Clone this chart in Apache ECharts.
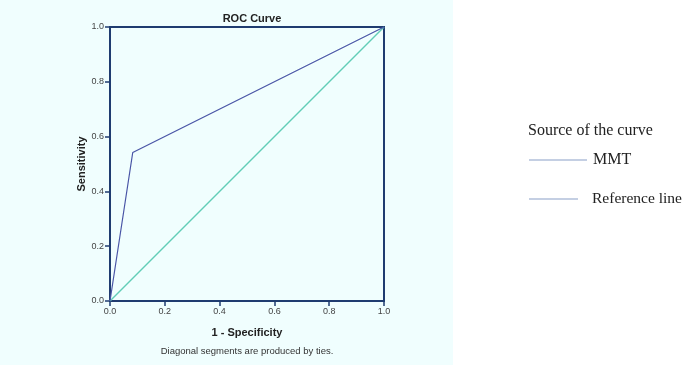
<!DOCTYPE html>
<html>
<head>
<meta charset="utf-8">
<script src="https://cdn.jsdelivr.net/npm/echarts@6/dist/echarts.min.js"></script>
<style>
  html, body { margin: 0; padding: 0; background: #fff; }
  #chart { width: 688px; height: 365px; }
</style>
</head>
<body>
<div id="chart"></div>
<script>
// ROC points (1 - specificity, sensitivity)
const mmtX = [0, 0.083, 1]
const mmtY = [0, 0.542, 1]
const refX = [0, 1]
const refY = [0, 1]
const legendNames = ['MMT', 'Reference line']

const frameColor = '#1f3c70'
const mmtColor = '#4955a6'
const refColor = '#62cdb7'
const labelFont = 'Liberation Sans, Arial, sans-serif'
const legendFont = 'Liberation Serif, serif'

const chart = echarts.init(document.getElementById('chart'))

const toPairs = (xs, ys) => xs.map((x, i) => [x, ys[i]])

const axisCommon = {
  min: 0,
  max: 1,
  interval: 0.2,
  axisLine: { show: true, lineStyle: { color: frameColor, width: 2 } },
  axisTick: { show: true, length: 5, lineStyle: { color: frameColor, width: 1.5 } },
  axisLabel: {
    color: '#444',
    fontSize: 9,
    fontFamily: labelFont,
    formatter: v => v.toFixed(1)
  },
  splitLine: { show: false },
  nameTextStyle: { fontWeight: 'bold', fontSize: 11, color: '#222', fontFamily: labelFont }
}

const option = {
  backgroundColor: '#fff',
  animation: false,
  title: {
    text: 'ROC Curve',
    left: 247,
    textAlign: 'center',
    top: 8,
    textStyle: { fontSize: 11, fontWeight: 'bold', color: '#222', fontFamily: labelFont }
  },
  grid: {
    left: 110,
    right: 304,
    top: 27,
    bottom: 64,
    show: true,
    borderColor: frameColor,
    borderWidth: 2,
    backgroundColor: 'transparent'
  },
  xAxis: Object.assign({}, axisCommon, {
    type: 'value',
    name: '1 - Specificity',
    nameLocation: 'middle',
    nameGap: 26,
    axisLabel: Object.assign({}, axisCommon.axisLabel, { margin: 6 })
  }),
  yAxis: Object.assign({}, axisCommon, {
    type: 'value',
    name: 'Sensitivity',
    nameLocation: 'middle',
    nameGap: 20,
    axisLabel: Object.assign({}, axisCommon.axisLabel, { margin: 6 })
  }),
  graphic: [
    {
      type: 'rect', z: -10, silent: true,
      shape: { x: 0, y: 0, width: 453, height: 365 },
      style: { fill: '#f0fefe' }
    },
    {
      type: 'text', x: 247, y: 346,
      style: {
        text: 'Diagonal segments are produced by ties.',
        fill: '#333', fontSize: 9.5, fontFamily: labelFont, align: 'center'
      }
    },
    {
      type: 'text', x: 528, y: 123,
      style: { text: 'Source of the curve', fill: '#222', fontSize: 16, fontFamily: legendFont }
    },
    {
      type: 'line',
      shape: { x1: 529, y1: 160, x2: 587, y2: 160 },
      style: { stroke: '#8aa0c8', lineWidth: 1.2 }
    },
    {
      type: 'text', x: 593, y: 152,
      style: { text: legendNames[0], fill: '#222', fontSize: 16, fontFamily: legendFont }
    },
    {
      type: 'line',
      shape: { x1: 529, y1: 199, x2: 578, y2: 199 },
      style: { stroke: '#8aa0c8', lineWidth: 1.2 }
    },
    {
      type: 'text', x: 592, y: 191,
      style: { text: legendNames[1], fill: '#222', fontSize: 15.5, fontFamily: legendFont }
    }
  ],
  series: [
    {
      name: legendNames[0],
      type: 'line',
      data: toPairs(mmtX, mmtY),
      showSymbol: false,
      lineStyle: { color: mmtColor, width: 1.2 },
      z: 3
    },
    {
      name: legendNames[1],
      type: 'line',
      data: toPairs(refX, refY),
      showSymbol: false,
      lineStyle: { color: refColor, width: 1.5 },
      z: 2
    }
  ]
}

chart.setOption(option)
</script>
</body>
</html>
